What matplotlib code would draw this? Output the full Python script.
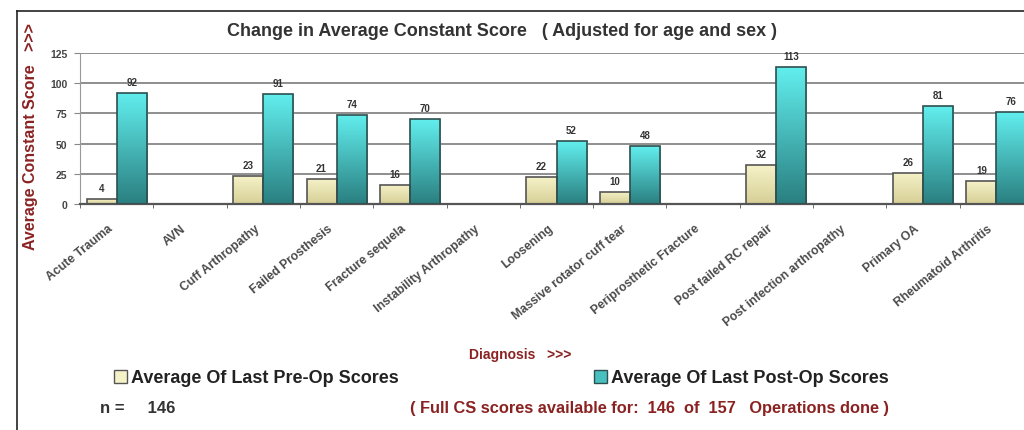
import numpy as np
import matplotlib
matplotlib.use("Agg")
import matplotlib.pyplot as plt
import matplotlib.transforms as mtransforms
from matplotlib.colors import LinearSegmentedColormap
from matplotlib.patches import Patch
from matplotlib.lines import Line2D

plt.rcParams['font.family'] = ['Liberation Sans', 'DejaVu Sans']
plt.rcParams['font.weight'] = 'bold'

categories = ['Acute Trauma', 'AVN', 'Cuff Arthropathy', 'Failed Prosthesis',
              'Fracture sequela', 'Instability Arthropathy', 'Loosening',
              'Massive rotator cuff tear', 'Periprosthetic Fracture',
              'Post failed RC repair', 'Post infection arthropathy',
              'Primary OA', 'Rheumatoid Arthritis']
pre_op = [4, np.nan, 23, 21, 16, np.nan, 22, 10, np.nan, 32, np.nan, 26, 19]
post_op = [92, np.nan, 91, 74, 70, np.nan, 52, 48, np.nan, 113, np.nan, 81, 76]
y_ticks = [0, 25, 50, 75, 100, 125]

dark_red = '#8b2222'
pre_cols = ('#d6cf96', '#f6f2c8')   # bottom, top
post_cols = ('#2a7f80', '#62eeee')

fig = plt.figure(figsize=(10.24, 4.31), dpi=100)
W, H = 1024, 431
# axes area in pixels: x 80..1033, y 54..205 (image goes off the right edge)
ax = fig.add_axes([80 / W, 1 - 205 / H, 953 / W, 151 / H])

x = np.arange(len(categories))
bw = 0.41


def gradient_bars(bars, cols):
    cmap = LinearSegmentedColormap.from_list('g', list(cols))
    grad = np.linspace(1, 0, 128).reshape(-1, 1)
    for b in bars:
        h = b.get_height()
        if not np.isfinite(h) or h <= 0:
            continue
        x0, y0, w = b.get_x(), b.get_y(), b.get_width()
        im = ax.imshow(grad, extent=[x0, x0 + w, y0, y0 + h], aspect='auto',
                       cmap=cmap, vmin=0, vmax=1, zorder=2.5)
        im.set_clip_path(b)


b1 = ax.bar(x - bw / 2, pre_op, bw, facecolor='none', edgecolor='#555555',
            linewidth=1.2, zorder=3)
b2 = ax.bar(x + bw / 2, post_op, bw, facecolor='none', edgecolor='#2f4f4f',
            linewidth=1.2, zorder=3)
gradient_bars(b1, pre_cols)
gradient_bars(b2, post_cols)

for xi, v in zip(x, pre_op):
    if np.isfinite(v):
        ax.text(xi - bw / 2, v + 5, f'{v:.0f}', ha='center', va='bottom',
                fontsize=7, color='#333333', zorder=4)
for xi, v in zip(x, post_op):
    if np.isfinite(v):
        ax.text(xi + bw / 2, v + 5, f'{v:.0f}', ha='center', va='bottom',
                fontsize=7, color='#333333', zorder=4)

ax.set_xlim(-0.5, len(categories) - 0.5)
ax.set_ylim(0, 125)
ax.set_yticks(y_ticks)
ax.set_yticklabels([str(t) for t in y_ticks], fontsize=7.5, color='#444444')
ax.yaxis.grid(True, color='#707070', linewidth=1.1, zorder=1)
ax.set_axisbelow(True)
ax.set_xticks(x)
ax.set_xticklabels(categories, rotation=39, ha='right', rotation_mode='anchor',
                   fontsize=8.8, color='#4a4a4a')
ax.tick_params(axis='x', length=0, pad=13)
# nudge the slanted labels a little left, like the original
shift = mtransforms.ScaledTranslation(-9 / 100, 0, fig.dpi_scale_trans)
for lbl in ax.get_xticklabels():
    lbl.set_transform(lbl.get_transform() + shift)
ax.set_xticks(np.arange(len(categories) + 1) - 0.5, minor=True)
ax.tick_params(axis='x', which='minor', length=3, color='#555555')
ax.tick_params(axis='y', length=4, color='#888888', pad=5)
for s in ['top', 'right']:
    ax.spines[s].set_visible(False)
ax.spines['left'].set_color('#999999')
ax.spines['bottom'].set_color('#555555')
ax.spines['bottom'].set_linewidth(1.6)

# outer frame of the slide
fig.add_artist(Line2D([17 / W, 17 / W], [0, 1 - 12 / H], color='#222222', lw=1.2))
fig.add_artist(Line2D([17 / W, 1], [1 - 12 / H, 1 - 12 / H], color='#222222', lw=1.2))

fig.text(502 / W, 1 - 31 / H,
         'Change in Average Constant Score   ( Adjusted for age and sex )',
         ha='center', va='center', fontsize=13, color='#333333')
fig.text(31 / W, 1 - 137 / H, 'Average Constant Score   >>>', rotation=90,
         ha='center', va='center', fontsize=11.5, color=dark_red)
fig.text(520 / W, 1 - 355 / H, 'Diagnosis   >>>', ha='center', va='center',
         fontsize=10, color=dark_red)

handles = [Patch(facecolor=pre_cols[1], edgecolor='#555555'),
           Patch(facecolor='#49c0c0', edgecolor='#2f4f4f')]
fig.legend(handles, ['Average Of Last Pre-Op Scores', 'Average Of Last Post-Op Scores'],
           loc='center left', bbox_to_anchor=(107 / W, 1 - 379 / H), ncol=2,
           frameon=False, fontsize=13, handlelength=0.7, handleheight=0.7,
           handletextpad=0.25, columnspacing=10.8, borderaxespad=0,
           labelcolor='#222222')

fig.text(100 / W, 1 - 409 / H, 'n =     146', ha='left', va='center',
         fontsize=12, color='#333333')
fig.text(650 / W, 1 - 409 / H,
         '( Full CS scores available for:  146  of  157   Operations done )',
         ha='center', va='center', fontsize=11.8, color=dark_red)

fig.savefig('out.png', dpi=100)
